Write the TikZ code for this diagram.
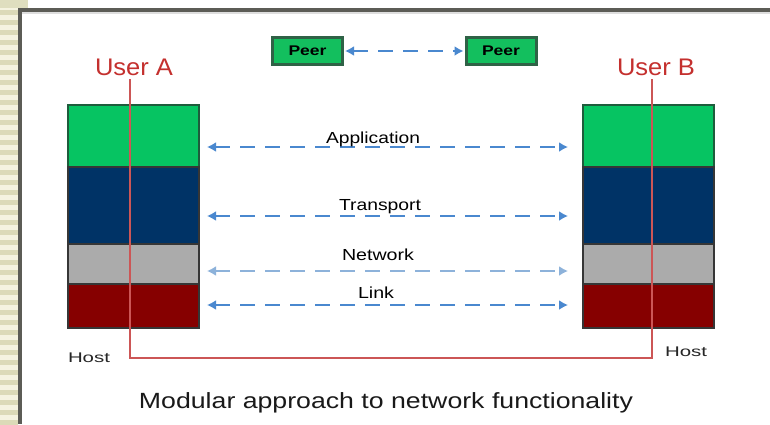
\documentclass[tikz,border=0pt]{standalone}
\usepackage{fontspec}
\setmainfont{Liberation Sans}
\usepackage{graphicx}
\usetikzlibrary{arrows.meta}

% set a text at a given width, keeping its height
\newcommand\fitto[2]{\resizebox{#1pt}{\height}{#2}}

\definecolor{appgreen}{HTML}{06C462}
\definecolor{appedge}{HTML}{1E5C3C}
\definecolor{tpblue}{HTML}{003366}
\definecolor{netgray}{HTML}{ABABAB}
\definecolor{linkred}{HTML}{860000}
\definecolor{layeredge}{HTML}{363636}
\definecolor{peergreen}{HTML}{13BF5E}
\definecolor{peeredge}{HTML}{2F6246}
\definecolor{arrowblue}{HTML}{4A88CF}
\definecolor{arrowpale}{HTML}{8DB2DA}
\definecolor{userred}{HTML}{C4302E}
\definecolor{wirered}{HTML}{CC5656}
\definecolor{stripeA}{HTML}{DCDAB8}
\definecolor{stripeB}{HTML}{F5F3E0}
\definecolor{framegray}{HTML}{5C5C56}

\tikzset{
  layer/.style={draw=layeredge, line width=2pt, minimum width=131pt, inner sep=0pt, outer sep=0pt},
  peerbox/.style={draw=peeredge, fill=peergreen, line width=3pt, minimum width=70pt, minimum height=27pt, inner sep=0pt, font=\bfseries\fontsize{14}{14}\selectfont},
  layertext/.style={anchor=base, inner sep=0pt, font=\fontsize{16}{16}\selectfont, text=black},
  usertext/.style={anchor=base, inner sep=0pt, font=\fontsize{24}{24}\selectfont, text=userred},
  hosttext/.style={anchor=base, inner sep=0pt, font=\fontsize{14}{14}\selectfont, text=black!85},
  captext/.style={anchor=base, inner sep=0pt, font=\fontsize{22}{22}\selectfont, text=black!90},
  dasharrow/.style={draw=arrowblue, line width=2.2pt, dash pattern=on 15pt off 10pt,
    {Latex[length=9pt,width=10pt]}-{Latex[length=9pt,width=10pt]}},
  hostline/.style={draw=wirered, line width=1.8pt},
}

\begin{document}
\begin{tikzpicture}[x=1pt,y=-1pt]
\useasboundingbox (0,0) rectangle (770,424);
\fill[white] (0,0) rectangle (770,424);

% striped margin and frame
\foreach \i in {0,...,84} {
  \pgfmathsetmacro\yy{5*\i}
  \ifodd\i
    \fill[stripeB] (0,\yy) rectangle (18,\yy+5);
  \else
    \fill[stripeA] (0,\yy) rectangle (18,\yy+5);
  \fi
}
\fill[stripeA!90!white] (0,0) rectangle (28,8);
\fill[framegray] (18,8) rectangle (22,424);
\fill[framegray] (18,8) rectangle (770,11.5);
\fill[black!13] (22,11.5) rectangle (770,14);

% protocol stack of host A
\node[layer, draw=appedge, fill=appgreen, minimum height=62pt] (appA) at (133.5,136) {};
\node[layer, fill=tpblue, minimum height=77pt] (tpA) at (133.5,205.5) {};
\node[layer, fill=netgray, minimum height=40pt] (netA) at (133.5,264) {};
\node[layer, fill=linkred, minimum height=44pt] (linkA) at (133.5,306) {};

% protocol stack of host B
\node[layer, draw=appedge, fill=appgreen, minimum height=62pt] (appB) at (648,136) {};
\node[layer, fill=tpblue, minimum height=77pt] (tpB) at (648,205.5) {};
\node[layer, fill=netgray, minimum height=40pt] (netB) at (648,264) {};
\node[layer, fill=linkred, minimum height=44pt] (linkB) at (648,306) {};

% user labels and the wire joining both hosts
\node[usertext] (userA) at (134,75) {\fitto{78}{User A}};
\node[usertext] (userB) at (656,75) {\fitto{78}{User B}};
\coordinate (topA) at (130,79);
\coordinate (botA) at (130,358);
\coordinate (topB) at (652,79);
\coordinate (botB) at (652,358);
\draw[hostline] (topA) -- (botA) -- (botB) -- (topB);

\node[hosttext] (hostA) at (89,362) {\fitto{42}{Host}};
\node[hosttext] (hostB) at (686,356) {\fitto{42}{Host}};

% peers
\node[peerbox] (peerL) at (307.5,51) {\fitto{38}{Peer}};
\node[peerbox] (peerR) at (501,51) {\fitto{38}{Peer}};
\draw[dasharrow] ([xshift=1pt]peerL.east) -- ([xshift=-1pt]peerR.west);

% layer-to-layer exchanges
\coordinate (appL) at (207,147);  \coordinate (appR) at (568,147);
\coordinate (tpL) at (207,216);   \coordinate (tpR) at (568,216);
\coordinate (netL) at (207,271);  \coordinate (netR) at (568,271);
\coordinate (linkL) at (207,305); \coordinate (linkR) at (568,305);
\draw[dasharrow] (appL) -- (appR);
\draw[dasharrow] (tpL) -- (tpR);
\draw[dasharrow, draw=arrowpale] (netL) -- (netR);
\draw[dasharrow] (linkL) -- (linkR);

\node[layertext] (appT) at (373,143) {\fitto{94}{Application}};
\node[layertext] (tpT) at (380,210) {\fitto{82}{Transport}};
\node[layertext] (netT) at (378,260) {\fitto{72}{Network}};
\node[layertext] (linkT) at (376,298) {\fitto{36}{Link}};

% caption
\node[captext] (cap) at (386,408) {\fitto{494}{Modular approach to network functionality}};
\end{tikzpicture}
\end{document}
